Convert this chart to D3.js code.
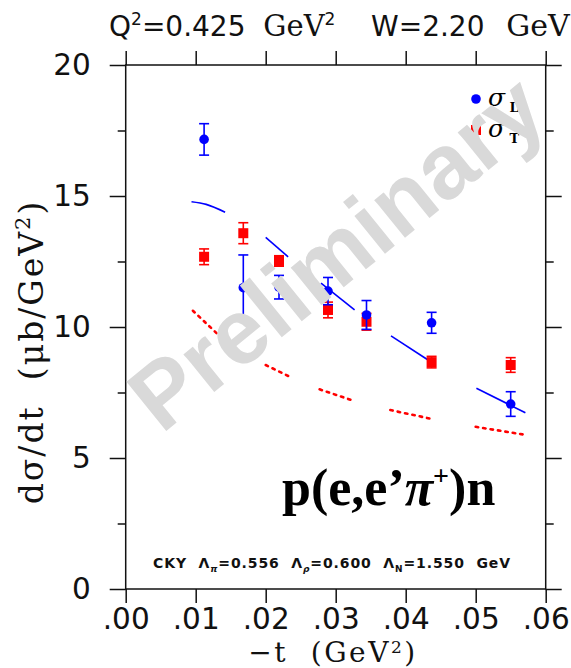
<!DOCTYPE html>
<html>
<head>
<meta charset="utf-8">
<script src="https://cdn.jsdelivr.net/npm/d3@7"></script>
<style>
  body { margin: 0; background: #fff; }
  svg { display: block; }
  svg text { white-space: pre; }
</style>
</head>
<body>
<svg id="chart" width="571" height="668"></svg>
<script>
// -t bin centres (GeV^2)
const tBins = [0.0112, 0.0168, 0.0219, 0.0289, 0.0344, 0.0437, 0.0550];
// sigma_L (blue circles)
const sigL = [17.16, 11.5, 11.52, 11.37, 10.46, 10.16, 7.06];
const sigLErr = [0.6, 1.25, 0.45, 0.52, 0.55, 0.4, 0.47];
// sigma_T (red squares)
const sigT = [12.68, 13.58, 12.52, 10.65, 10.2, 8.66, 8.55];
const sigTErr = [0.3, 0.4, 0.2, 0.3, 0.32, 0.22, 0.28];
// CKY model pieces, [t, value]
const modelL = [
    [[0.0094, 14.78], [0.0115, 14.68], [0.0142, 14.38]],
    [[0.0200, 13.42], [0.0232, 12.68]],
    [[0.0279, 11.67], [0.0327, 10.65]],
    [[0.0379, 9.66], [0.0432, 8.74]],
    [[0.0501, 7.66], [0.0571, 6.73]]
];
const modelT = [
    [[0.0096, 10.62], [0.0136, 9.61]],
    [[0.0200, 8.55], [0.0236, 8.08]],
    [[0.0277, 7.62], [0.0325, 7.19]],
    [[0.0378, 6.83], [0.0439, 6.48]],
    [[0.0500, 6.19], [0.0572, 5.88]]
];
const xTicks = [0, 0.01, 0.02, 0.03, 0.04, 0.05, 0.06];
const xTickLabels = [".00", ".01", ".02", ".03", ".04", ".05", ".06"];
const yTicks = [0, 5, 10, 15, 20];
const yMinor = [2.5, 7.5, 12.5, 17.5];

(function () {
    const left = 125.7, right = 545.7, top = 65, bottom = 589;
    const blue = "#0000ff", red = "#ff0000";
    const svg = d3.select("#chart");

    const x = d3.scaleLinear().domain([0, 0.06]).range([left, right]);
    const y = d3.scaleLinear().domain([0, 20]).range([bottom, top]);

    // frame
    svg.append("rect")
        .attr("x", left).attr("y", top)
        .attr("width", right - left).attr("height", bottom - top)
        .attr("fill", "none").attr("stroke", "#111").attr("stroke-width", 1.5);

    function styleAxis(g) {
        g.select(".domain").remove();
        g.selectAll(".tick line").attr("stroke", "#111").attr("stroke-width", 1.5);
        g.attr("font-family", "DejaVu Sans").attr("font-size", 29.5).attr("fill", "#111");
        g.selectAll(".tick text").attr("fill", "#111");
    }

    // bottom / top
    svg.append("g").attr("transform", `translate(0,${bottom})`)
        .call(d3.axisBottom(x).tickValues(xTicks).tickSize(14).tickPadding(5)
            .tickFormat((d, i) => xTickLabels[i]))
        .call(styleAxis);
    svg.append("g").attr("transform", `translate(0,${top})`)
        .call(d3.axisTop(x).tickValues(xTicks).tickSize(14).tickFormat(""))
        .call(styleAxis);

    // left / right
    svg.append("g").attr("transform", `translate(${left},0)`)
        .call(d3.axisLeft(y).tickValues(yTicks).tickSize(16).tickPadding(19))
        .call(styleAxis);
    svg.append("g").attr("transform", `translate(${left},0)`)
        .call(d3.axisLeft(y).tickValues(yMinor).tickSize(8).tickFormat(""))
        .call(styleAxis);
    svg.append("g").attr("transform", `translate(${right},0)`)
        .call(d3.axisRight(y).tickValues(yTicks).tickSize(16).tickFormat(""))
        .call(styleAxis);
    svg.append("g").attr("transform", `translate(${right},0)`)
        .call(d3.axisRight(y).tickValues(yMinor).tickSize(8).tickFormat(""))
        .call(styleAxis);

    // model curves
    const line = d3.line().x(d => x(d[0])).y(d => y(d[1])).curve(d3.curveMonotoneX);
    svg.append("g").selectAll("path").data(modelL).join("path")
        .attr("d", line).attr("fill", "none")
        .attr("stroke", blue).attr("stroke-width", 1.6);
    svg.append("g").selectAll("path").data(modelT).join("path")
        .attr("d", line).attr("fill", "none")
        .attr("stroke", red).attr("stroke-width", 2.6)
        .attr("stroke-dasharray", "2.5,5").attr("stroke-linecap", "round");

    // error bars + markers
    function errBars(vals, errs, color) {
        const g = svg.append("g").attr("stroke", color).attr("stroke-width", 1.6);
        tBins.forEach((t, i) => {
            const cx = x(t), y0 = y(vals[i] - errs[i]), y1 = y(vals[i] + errs[i]);
            g.append("line").attr("x1", cx).attr("x2", cx).attr("y1", y0).attr("y2", y1);
            g.append("line").attr("x1", cx - 5).attr("x2", cx + 5).attr("y1", y0).attr("y2", y0);
            g.append("line").attr("x1", cx - 5).attr("x2", cx + 5).attr("y1", y1).attr("y2", y1);
        });
    }
    errBars(sigT, sigTErr, red);
    svg.append("g").selectAll("rect").data(tBins).join("rect")
        .attr("x", d => x(d) - 5).attr("y", (d, i) => y(sigT[i]) - 5)
        .attr("width", 10).attr("height", 10).attr("fill", red);
    errBars(sigL, sigLErr, blue);
    svg.append("g").selectAll("circle").data(tBins).join("circle")
        .attr("cx", d => x(d)).attr("cy", (d, i) => y(sigL[i]))
        .attr("r", 4.8).attr("fill", blue);

    // legend
    const lg = svg.append("g");
    lg.append("circle").attr("cx", 476).attr("cy", 99).attr("r", 4.8).attr("fill", blue);
    lg.append("rect").attr("x", 471).attr("y", 125).attr("width", 10).attr("height", 10).attr("fill", red);
    const lt1 = lg.append("text").attr("x", 488).attr("y", 106)
        .attr("font-family", "DejaVu Serif").attr("font-size", 25).attr("font-style", "italic");
    lt1.append("tspan").text("σ");
    lt1.append("tspan").attr("dy", 6).attr("font-size", 13).attr("font-style", "normal").attr("font-weight", "bold").text(" L");
    const lt2 = lg.append("text").attr("x", 488).attr("y", 137)
        .attr("font-family", "DejaVu Serif").attr("font-size", 25).attr("font-style", "italic");
    lt2.append("tspan").text("σ");
    lt2.append("tspan").attr("dy", 6).attr("font-size", 13).attr("font-style", "normal").attr("font-weight", "bold").text(" T");

    // top title
    const tt = svg.append("text").attr("x", 109).attr("y", 36)
        .attr("font-family", "DejaVu Sans").attr("font-size", 28).attr("fill", "#111");
    tt.append("tspan").text("Q");
    tt.append("tspan").attr("dy", -11).attr("font-size", 17).text("2");
    tt.append("tspan").attr("dy", 11).text("=0.425  ");
    tt.append("tspan").attr("font-family", "DejaVu Serif").attr("font-size", 29).text("GeV");
    tt.append("tspan").attr("dy", -11).attr("font-size", 17).text("2");
    tt.append("tspan").attr("dy", 11).text("    W=2.20  ");
    tt.append("tspan").attr("dx", 4).attr("font-family", "DejaVu Serif").attr("font-size", 30).text("GeV");

    // axis titles
    const xt = svg.append("text").attr("x", 333).attr("y", 662).attr("text-anchor", "middle")
        .attr("font-family", "DejaVu Serif").attr("font-size", 28).attr("letter-spacing", 2.5)
        .attr("fill", "#111");
    xt.append("tspan").text("\u2212t  (GeV");
    xt.append("tspan").attr("dy", -9).attr("font-size", 17).text("2");
    xt.append("tspan").attr("dy", 9).text(")");

    const yt = svg.append("text").attr("transform", "translate(43,352) rotate(-90)")
        .attr("text-anchor", "middle")
        .attr("font-family", "DejaVu Serif").attr("font-size", 33).attr("letter-spacing", 2)
        .attr("fill", "#111");
    yt.append("tspan").text("d\u03c3/dt  (\u03bcb/GeV");
    yt.append("tspan").attr("dy", -13).attr("font-size", 21).text("2");
    yt.append("tspan").attr("dy", 13).text(")");

    // reaction label
    const rl = svg.append("text").attr("x", 282).attr("y", 505)
        .attr("font-family", "Liberation Serif").attr("font-weight", "bold")
        .attr("font-size", 52).attr("fill", "#000");
    rl.append("tspan").text("p(e,e\u2019");
    rl.append("tspan").attr("font-style", "italic").text("\u03c0");
    rl.append("tspan").attr("dy", -20).attr("font-size", 28).text("+");
    rl.append("tspan").attr("dy", 20).text(")n");

    // model parameters
    const ck = svg.append("text").attr("x", 153).attr("y", 568)
        .attr("font-family", "DejaVu Sans").attr("font-weight", "bold")
        .attr("font-size", 14).attr("letter-spacing", 0.9).attr("fill", "#111");
    ck.append("tspan").text("CKY  \u039b");
    ck.append("tspan").attr("dy", 4).attr("font-size", 9).attr("font-style", "italic").text("\u03c0");
    ck.append("tspan").attr("dy", -4).text("=0.556  \u039b");
    ck.append("tspan").attr("dy", 4).attr("font-size", 9).attr("font-style", "italic").text("\u03c1");
    ck.append("tspan").attr("dy", -4).text("=0.600  \u039b");
    ck.append("tspan").attr("dy", 4).attr("font-size", 9).text("N");
    ck.append("tspan").attr("dy", -4).text("=1.550  GeV");

    // watermark
    svg.append("text").attr("transform", "translate(336,252) rotate(-39)")
        .attr("text-anchor", "middle").attr("dy", "0.35em")
        .attr("font-family", "Liberation Sans").attr("font-weight", "bold")
        .attr("font-size", 92).attr("fill", "#d9d9d9")
        .text("Preliminary");
})();
</script>
</body>
</html>
